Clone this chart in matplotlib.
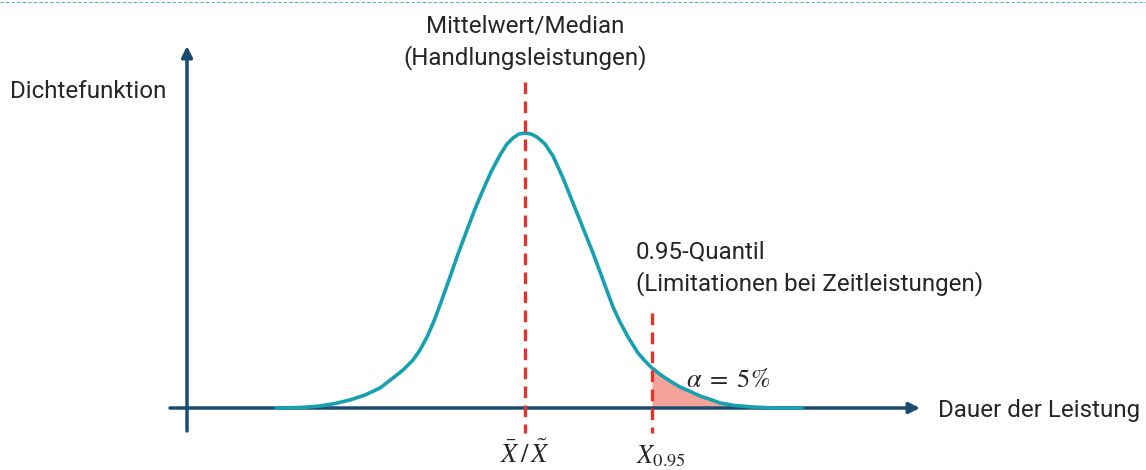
import matplotlib

matplotlib.use("Agg")
import matplotlib.pyplot as plt
import numpy as np

# curve (pixel space: x to the right, y downwards)
curve_x = [276, 290, 305, 320, 335, 350, 365, 380, 393, 403, 413, 420, 427, 434, 440,
           445, 450, 458, 467, 475, 483, 491, 500, 507, 513, 519, 525,
           531, 537, 545, 553, 563, 573, 583, 593, 603, 613, 620, 628, 638, 645,
           652, 661, 670, 680, 687, 700, 712, 720, 735, 753, 770, 802]
curve_y = [408, 407.8, 407.2, 406, 403.5, 400, 395, 388, 378, 370, 360, 350, 337, 321, 305,
           291, 277, 254, 230, 209, 190, 172, 155, 144, 138, 134, 133,
           134, 137, 144, 156, 178, 203, 228, 253, 280, 307, 322, 337, 353, 361,
           368, 375, 381, 387, 390, 396, 400, 403, 405.5, 407, 407.8, 408]
mean_x = 525
quantile_x = 652
baseline_y = 408

NAVY = "#1B4B70"
TEAL = "#17A0B0"
RED = "#E0352B"
SALMON = "#F4A39B"
INK = "#262626"

plt.rcParams["font.family"] = ["Roboto", "DejaVu Sans"]
plt.rcParams["mathtext.fontset"] = "stix"

fig = plt.figure(figsize=(11.46, 4.70), dpi=100)
ax = fig.add_axes([0, 0, 1, 1])
ax.set_xlim(0, 1146)
ax.set_ylim(470, 0)
ax.axis("off")

# top dashed border
ax.plot([0, 1146], [2, 2], color="#4BB3C3", lw=0.8, ls=(0, (3, 2)))

# axes with arrows
arrow = dict(arrowstyle="-|>", color=NAVY, lw=2.5, mutation_scale=16, shrinkA=0, shrinkB=0)
ax.annotate("", xy=(920, baseline_y), xytext=(170, baseline_y), arrowprops=arrow)
ax.annotate("", xy=(187, 46), xytext=(187, 431), arrowprops=arrow)

# shaded tail
cx = np.array(curve_x, dtype=float)
cy = np.array(curve_y, dtype=float)
tail = cx >= quantile_x
ax.fill_between(cx[tail], cy[tail], baseline_y, color=SALMON, lw=0, zorder=2)

# density curve
ax.plot(cx, cy, color=TEAL, lw=2.6, solid_capstyle="round", solid_joinstyle="round", zorder=3)

# mean and quantile markers
dash = (0, (3.5, 2.2))
ax.plot([mean_x, mean_x], [82, 433], color=RED, lw=2.4, ls=dash, zorder=4)
ax.plot([quantile_x, quantile_x], [313, 433], color=RED, lw=2.4, ls=dash, zorder=4)

# labels
fs = 17.4
txt = dict(fontsize=fs, color=INK)
ax.text(10, 92, "Dichtefunktion", va="center", ha="left", **txt)
ax.text(938, 410, "Dauer der Leistung", va="center", ha="left", **txt)
ax.text(mean_x, 42, "Mittelwert/Median\n(Handlungsleistungen)", va="center", ha="center",
        linespacing=1.4, **txt)
ax.text(636, 268, "0.95-Quantil\n(Limitationen bei Zeitleistungen)", va="center", ha="left",
        linespacing=1.4, **txt)
ax.text(686, 380, r"$\alpha\;=\;5\%$", fontsize=19, color=INK, va="center", ha="left")
ax.text(mean_x, 454, r"$\bar{X}\,/\,\tilde{X}$", fontsize=19, color=INK, va="center", ha="center")
ax.text(661, 456, r"$X_{0.95}$", fontsize=19, color=INK, va="center", ha="center")

fig.savefig("out.png", dpi=100)
